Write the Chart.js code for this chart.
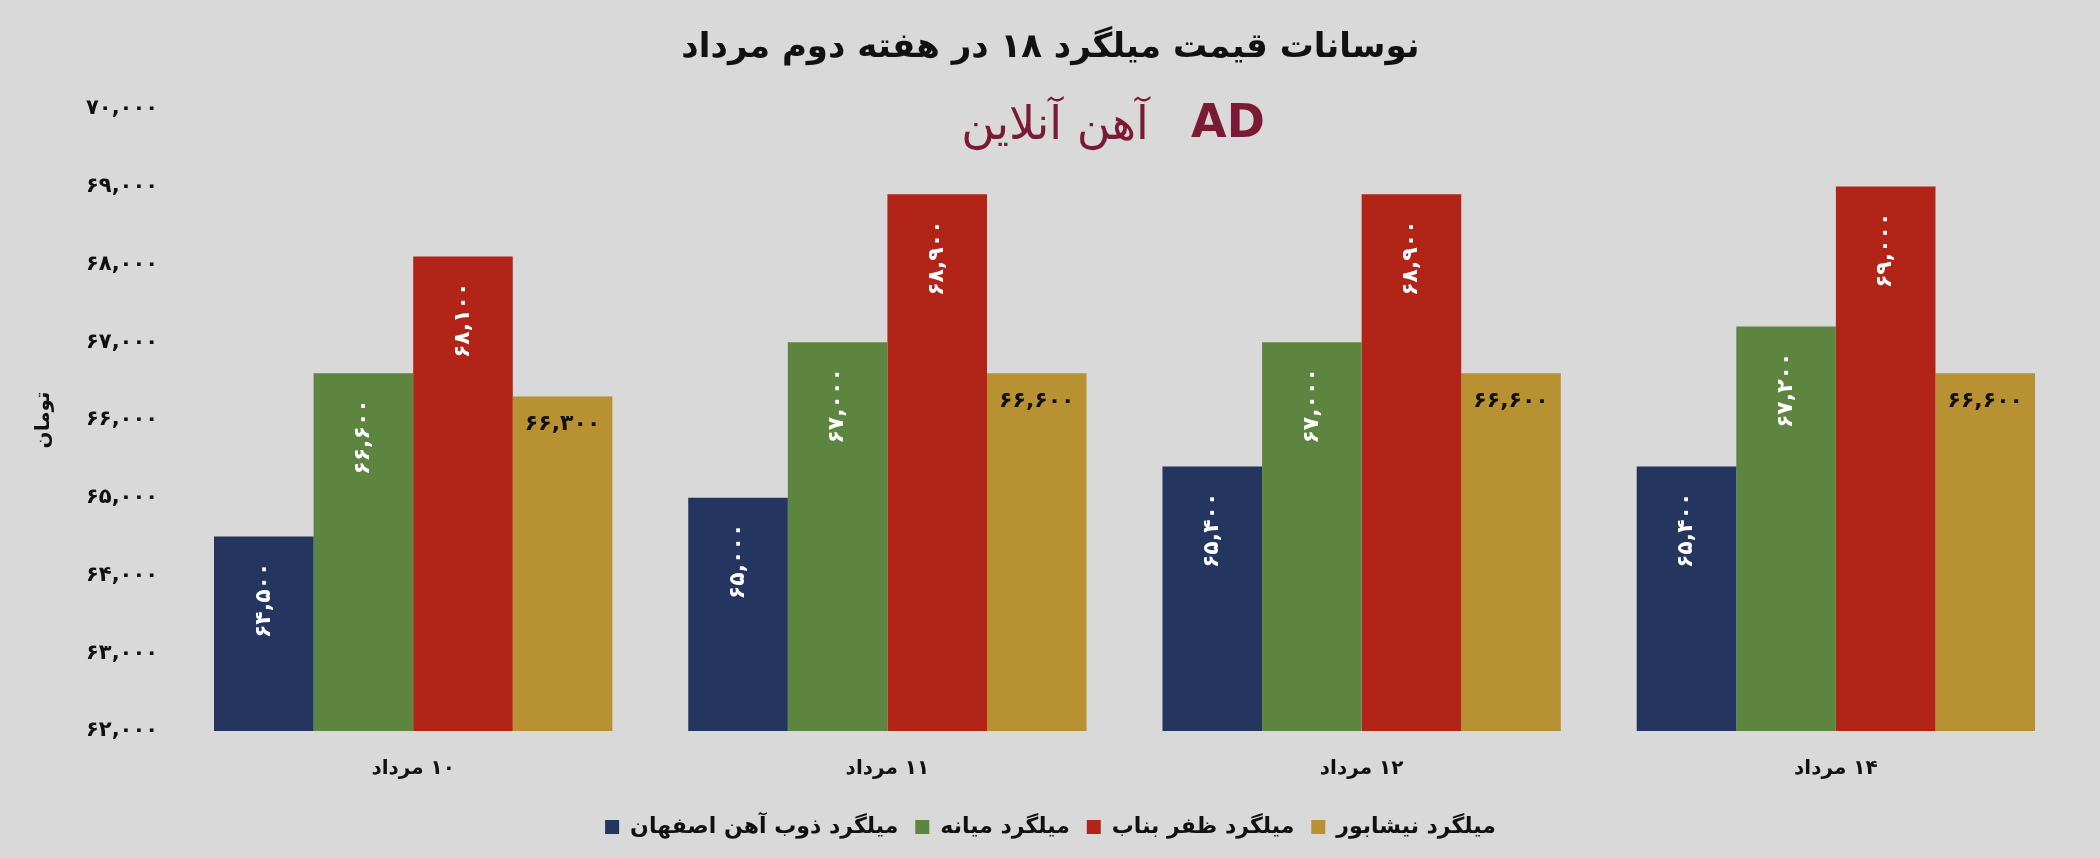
<!DOCTYPE html>
<html>
<head>
<meta charset="utf-8">
<script src="https://cdn.jsdelivr.net/npm/chart.js@4.4.0/dist/chart.umd.min.js"></script>
<style>
  html, body { margin: 0; padding: 0; background: #d9d9d9; }
  #wrap { position: relative; width: 2100px; height: 858px; }
</style>
</head>
<body>
<div id="wrap"><canvas id="c"></canvas></div>
<script>
const categories = ['\u2066مرداد\u2069 \u2066۱۰\u2069', '\u2066مرداد\u2069 \u2066۱۱\u2069', '\u2066مرداد\u2069 \u2066۱۲\u2069', '\u2066مرداد\u2069 \u2066۱۴\u2069'];
const seriesNames = ['میلگرد ذوب آهن اصفهان', 'میلگرد میانه', 'میلگرد ظفر بناب', 'میلگرد نیشابور'];
const esfahan = [64500, 65000, 65400, 65400];
const mianeh = [66600, 67000, 67000, 67200];
const bonab = [68100, 68900, 68900, 69000];
const neyshabur = [66300, 66600, 66600, 66600];
const colors = ['#243660', '#5e8540', '#b22418', '#b89232'];
const FONT = '"DejaVu Sans", sans-serif';

const faDigits = (n) => n.toLocaleString('en-US').replace(/\d/g, (d) => '۰۱۲۳۴۵۶۷۸۹'[d]);

const barLabels = {
  id: 'barLabels',
  afterDatasetsDraw(chart) {
    const ctx = chart.ctx;
    ctx.save();
    ctx.font = 'bold 22px ' + FONT;
    chart.data.datasets.forEach((ds, i) => {
      chart.getDatasetMeta(i).data.forEach((bar, j) => {
        const text = faDigits(ds.data[j]);
        if (i < 3) {
          ctx.save();
          ctx.fillStyle = '#ffffff';
          ctx.translate(bar.x, bar.y + 26);
          ctx.rotate(-Math.PI / 2);
          ctx.textAlign = 'right';
          ctx.textBaseline = 'middle';
          ctx.fillText(text, 0, 0);
          ctx.restore();
        } else {
          ctx.fillStyle = '#111111';
          ctx.textAlign = 'center';
          ctx.textBaseline = 'middle';
          ctx.fillText(text, bar.x, bar.y + 28);
        }
      });
    });
    // logo
    ctx.fillStyle = '#7a1a35';
    ctx.font = '46px ' + FONT;
    ctx.textAlign = 'center';
    ctx.textBaseline = 'middle';
    ctx.fillText('آهن آنلاین', 1055, 127);
    ctx.font = 'bold 46px ' + FONT;
    ctx.fillText('AD', 1228, 125);
    ctx.restore();
  }
};

new Chart(document.getElementById('c'), {
  type: 'bar',
  data: {
    labels: categories,
    datasets: [esfahan, mianeh, bonab, neyshabur].map((d, i) => ({
      label: seriesNames[i],
      data: d,
      backgroundColor: colors[i],
      barPercentage: 1,
      categoryPercentage: 0.84,
    })),
  },
  options: {
    responsive: true,
    maintainAspectRatio: false,
    animation: false,
    layout: { padding: { left: 28, right: 27, top: 10, bottom: 10 } },
    plugins: {
      title: {
        display: true,
        text: 'نوسانات قیمت میلگرد ۱۸ در هفته دوم مرداد',
        color: '#111',
        font: { family: FONT, size: 34, weight: 'bold' },
        padding: { top: 18, bottom: 40 },
      },
      legend: {
        position: 'bottom',
        labels: {
          color: '#111',
          font: { family: FONT, size: 22, weight: 'bold' },
          boxWidth: 14,
          boxHeight: 14,
          padding: 17,
        },
      },
      tooltip: { enabled: false },
    },
    scales: {
      x: {
        grid: { display: false },
        border: { display: false },
        ticks: { color: '#111', font: { family: FONT, size: 20, weight: 'bold' }, padding: 18 },
      },
      y: {
        min: 62000,
        max: 70000,
        grid: { display: false },
        border: { display: false },
        ticks: {
          stepSize: 1000,
          color: '#111',
          font: { family: FONT, size: 21, weight: 'bold' },
          padding: 10,
          callback: (v) => faDigits(v),
        },
        title: {
          display: true,
          text: 'تومان',
          color: '#111',
          font: { family: FONT, size: 20, weight: 'bold' },
          padding: { bottom: 20 },
        },
      },
    },
  },
  plugins: [barLabels],
});
</script>
</body>
</html>
